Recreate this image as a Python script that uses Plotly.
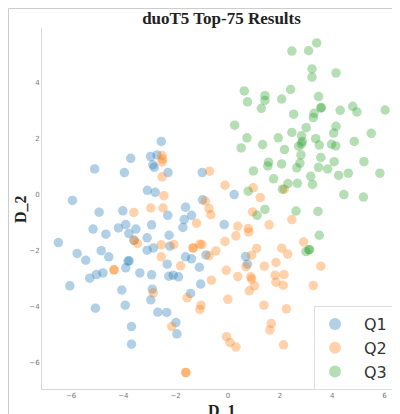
import plotly.graph_objects as go

q1_x = [-2.55,-2.71,-2.96,-3.72,-2.87,-2.82,-2.29,-5.10,-3.96,-0.98,-3.08,-2.78,-5.95,-0.97,-1.62,
        -4.93,-4.02,-2.30,-1.67,-1.39,-1.72,-3.91,-2.92,-4.19,-5.16,-3.52,-4.67,-3.79,-2.25,-3.09,-3.59,-6.49,
        -3.09,-2.85,-2.22,-4.85,-5.77,-4.56,-5.44,-1.62,-1.39,-3.78,-3.82,-2.32,-3.91,-1.09,-4.78,-5.03,-5.29,
        -3.37,-2.92,-2.26,-2.09,-1.89,-6.05,-1.04,-2.89,-4.06,-1.43,-2.95,-3.93,-5.07,-2.68,-2.34,-1.99,-3.69,
        -1.95,-3.69,-0.14,-0.84,0.68,0.75,0.24]
q1_y = [1.89,1.41,1.35,1.29,1.06,0.97,0.78,0.91,0.78,0.78,0.15,0.08,-0.21,-0.19,-0.45,
        -0.63,-0.58,-0.74,-0.89,-0.74,-1.17,-1.07,-1.08,-1.19,-1.23,-1.23,-1.41,-1.39,-1.45,-1.54,-1.63,-1.71,
        -1.98,-1.90,-1.84,-2.00,-2.10,-2.22,-2.34,-2.22,-2.29,-2.36,-2.37,-2.48,-2.61,-2.59,-2.79,-2.85,-2.98,
        -2.79,-2.86,-2.91,-2.87,-2.93,-3.25,-3.19,-3.37,-3.40,-3.52,-3.75,-3.94,-4.05,-4.19,-4.20,-4.56,-4.70,
        -4.96,-5.33,-1.07,-2.15,-2.21,-2.48,0.00]

q2_x = [-2.52,-2.50,-2.52,-2.52,-2.45,-2.95,-2.48,-3.60,-1.20,-3.46,-3.59,-2.55,-2.07,-1.33,-1.33,-1.07,
        -2.55,-1.81,-4.36,-4.36,-2.86,-1.56,-1.03,-1.07,-2.15,-1.61,-1.61,-0.70,-0.11,0.97,1.24,2.16,-0.86,-0.72,
        -0.65,0.95,1.58,2.45,0.38,0.78,0.80,0.31,-0.11,-0.99,-0.46,-0.72,1.10,0.91,2.06,2.29,2.90,1.84,1.40,
        0.69,3.56,-0.06,0.38,0.88,0.91,1.81,2.15,-0.63,1.84,2.12,1.02,0.82,3.27,0.00,1.38,2.24,1.66,1.61,
        -0.05,0.08,0.31,2.13]
q2_y = [1.39,1.26,1.16,0.63,-0.04,-0.48,-0.48,-0.64,-1.02,-1.74,-1.63,-1.79,-1.78,-1.90,-1.90,-1.77,
        -2.22,-2.54,-2.68,-2.68,-3.50,-3.68,-3.94,-4.09,-4.70,-6.34,-6.34,0.83,0.33,0.24,-0.11,0.19,-0.23,-0.50,
        -0.72,-0.62,-1.08,-0.89,-1.13,-1.21,-1.33,-1.47,-1.67,-1.78,-2.01,-2.18,-1.92,-2.16,-1.91,-2.12,-1.69,-2.42,-2.55,
        -2.57,-2.55,-2.70,-2.92,-2.93,-3.01,-2.87,-2.85,-3.05,-3.12,-3.23,-3.25,-3.43,-3.24,-3.73,-3.94,-4.07,-4.59,-4.82,
        -5.06,-5.27,-5.43,-5.35]

q3_x = [3.40,3.09,2.45,3.22,3.22,4.14,0.63,2.40,1.42,1.42,2.06,0.75,1.28,3.47,3.58,3.56,3.30,3.27,4.30,4.78,4.94,
        6.02,2.52,0.26,3.00,4.14,2.45,4.05,5.49,0.73,1.93,2.82,3.36,4.84,2.85,2.82,2.71,3.50,3.97,4.13,1.33,0.51,
        2.17,2.80,3.56,1.56,1.53,2.06,2.76,2.64,4.07,5.21,3.47,3.82,0.98,3.17,4.24,4.61,5.82,1.75,2.30,2.66,3.24,
        0.78,2.09,4.44,5.19,1.12,1.42,2.61,3.45,3.50,2.99,3.13,3.10]
q3_y = [5.40,5.12,5.11,4.47,4.18,4.33,3.69,3.74,3.52,3.35,3.40,3.30,3.07,3.49,3.10,3.08,2.89,2.74,3.00,3.14,2.94,
        3.01,2.86,2.47,2.38,2.43,2.21,2.19,2.18,2.02,2.02,2.09,1.99,1.89,1.89,1.80,1.72,1.76,1.79,1.73,1.78,1.66,
        1.60,1.41,1.32,1.15,1.02,1.09,1.12,0.95,1.17,1.17,0.97,0.91,0.84,0.65,0.68,0.76,0.76,0.56,0.39,0.40,0.36,
        0.12,0.19,0.00,-0.09,-0.74,-0.53,-0.59,-0.60,-1.45,-2.03,-1.96,-1.97]

names = ["Q1", "Q2", "Q3"]
colors = ["#1f77b4", "#ff7f0e", "#2ca02c"]
title_text = "duoT5 Top-75 Results"
x_label = "D_1"
y_label = "D_2"
x_ticks = [-6, -4, -2, 0, 2, 4, 6]
y_ticks = [-6, -4, -2, 0, 2, 4]

fig = go.Figure()
for name, xs, ys, color in zip(names, [q1_x, q2_x, q3_x], [q1_y, q2_y, q3_y], colors):
    fig.add_trace(go.Scatter(x=xs, y=ys, mode="markers", name=name,
                             marker=dict(size=9.5, color=color, opacity=0.35, line=dict(width=0))))

# the page body sits 8 px in from the window corner
W, H = 392, 406
L, R, T, B = 34, 0, 20, 25
PW, PH = W - L - R, H - T - B
axis_font = dict(family="Liberation Serif", size=16, color="#222222")
tick_font = dict(family="DejaVu Sans", size=7, color="#777777")

fig.update_layout(
    width=W, height=H, autosize=False,
    margin=dict(l=L, r=R, t=T, b=B),
    paper_bgcolor="white", plot_bgcolor="white",
    title=dict(text="<b>%s</b>" % title_text, x=213.5 / W, xanchor="center", y=1 - 10 / H, yanchor="middle",
               font=dict(family="Liberation Serif", size=17, color="#222222")),
    legend=dict(x=(306 - L) / PW, y=1 - (298 - T) / PH, xanchor="left", yanchor="top",
                bgcolor="white", bordercolor="#dddddd", borderwidth=1,
                font=dict(family="DejaVu Sans", size=16, color="#333333"),
                itemsizing="constant", itemwidth=48, indentation=-9,
                entrywidth=18, entrywidthmode="pixels"),
    xaxis=dict(range=[-7.115, 6.59], tickvals=x_ticks, showgrid=False, zeroline=False, showline=True,
               linecolor="#d8d8d8", linewidth=1, ticks="", tickfont=tick_font, ticklen=0, automargin=False),
    yaxis=dict(range=[-6.925, 5.93], tickvals=y_ticks, showgrid=False, zeroline=False, showline=True,
               linecolor="#d8d8d8", linewidth=1, ticks="", tickfont=tick_font, ticklen=0, automargin=False),
    annotations=[
        dict(text="<b>%s</b>" % x_label, xref="paper", yref="paper", x=(222 - 8 - L) / PW, y=-(400 - 8 - T - PH + 0) / PH,
             xanchor="center", yanchor="top", yshift=-1, showarrow=False, font=axis_font, borderpad=0),
        dict(text="<b>%s</b>" % y_label, xref="paper", yref="paper", x=(20 - 8 - L) / PW, y=1 - (209 - 8 - T) / PH,
             xanchor="center", yanchor="middle", textangle=-90, showarrow=False, font=axis_font, borderpad=0),
    ],
    shapes=[
        dict(type="line", xref="paper", yref="paper", x0=(0.5 - L) / PW, x1=1, y0=1 + (T - 0.5) / PH, y1=1 + (T - 0.5) / PH,
             line=dict(color="#cccccc", width=1)),
        dict(type="line", xref="paper", yref="paper", x0=(0.5 - L) / PW, x1=(0.5 - L) / PW, y0=1 + (T - 0.5) / PH, y1=-B / PH,
             line=dict(color="#cccccc", width=1)),
    ],
)
fig.write_html("out.html")
